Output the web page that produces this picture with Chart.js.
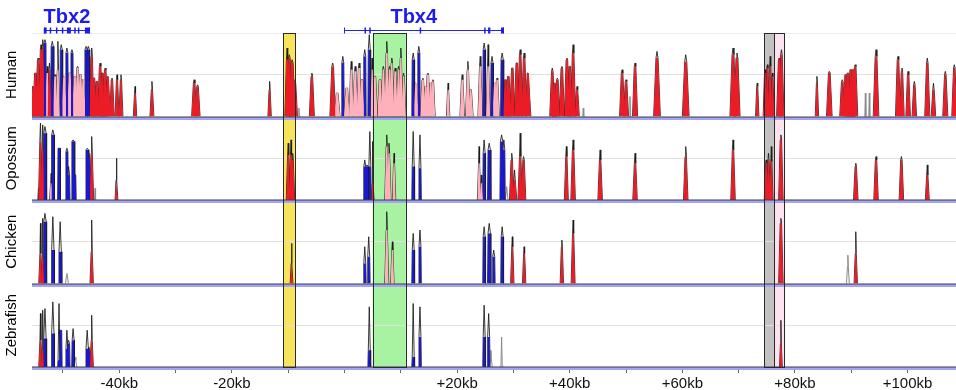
<!DOCTYPE html>
<html>
<head>
<meta charset="utf-8">
<script src="https://cdn.jsdelivr.net/npm/chart.js@4.4.1/dist/chart.umd.min.js"></script>
<style>
  html, body { margin: 0; padding: 0; background: #fff; }
  #wrap { width: 956px; height: 390px; position: relative; }
</style>
</head>
<body>
<div id="wrap"><canvas id="vista"></canvas></div>
<script>
// Window shown, in kb relative to Tbx4 start
const xMin = -55.5;
const xMax = 108.6;
const tickKb = [-50, -40, -30, -20, -10, 0, 10, 20, 30, 40, 50, 60, 70, 80, 90, 100];
const labelKb = [-40, -20, 20, 40, 60, 80, 100];

const species = ['Human', 'Opossum', 'Chicken', 'Zebrafish'];

// peaks: [kb, curve top %, coloured fill %, half width kb, kind]
const humanPeaks = [
  [-55.3, 68, 68, 0.35, 'cns'], [-54.9, 76, 76, 0.45, 'cns'], [-54.4, 85, 84, 0.45, 'cns'],
  [-53.9, 93, 90, 0.4, 'cns'], [-53.6, 96, 92, 0.35, 'cns'], [-53.2, 96, 94, 0.25, 'exon'],
  [-52.8, 80, 76, 0.4, 'utr'], [-52.4, 82, 78, 0.35, 'cns'], [-51.9, 95, 92, 0.28, 'exon'],
  [-51.4, 75, 74, 0.45, 'utr'], [-50.9, 95, 78, 0.35, 'utr'], [-50.3, 93, 90, 0.25, 'exon'],
  [-49.8, 74, 74, 0.5, 'utr'], [-49.3, 91, 88, 0.25, 'exon'], [-48.8, 76, 76, 0.5, 'utr'],
  [-48.4, 90, 88, 0.25, 'exon'], [-47.9, 74, 74, 0.5, 'utr'], [-47.4, 80, 79, 0.45, 'utr'],
  [-46.9, 75, 75, 0.5, 'utr'], [-46.4, 72, 72, 0.45, 'utr'], [-45.9, 92, 90, 0.28, 'exon'],
  [-45.5, 92, 90, 0.25, 'exon'], [-44.9, 91, 86, 0.4, 'cns'], [-44.5, 73, 73, 0.45, 'cns'],
  [-44.0, 71, 71, 0.45, 'cns'], [-43.4, 82, 80, 0.45, 'cns'], [-43.0, 76, 76, 0.45, 'cns'],
  [-42.5, 79, 78, 0.45, 'cns'], [-42.0, 74, 74, 0.45, 'cns'], [-41.3, 73, 72, 0.4, 'cns'],
  [-40.4, 75, 72, 0.35, 'cns'], [-39.7, 75, 72, 0.35, 'cns'], [-37.2, 68, 64, 0.3, 'cns'],
  [-34.2, 71, 66, 0.35, 'cns'], [-26.7, 72, 70, 0.45, 'cns'], [-26.1, 69, 68, 0.45, 'cns'],
  [-13.3, 71, 66, 0.3, 'cns'], [-10.2, 91, 84, 0.4, 'cns'], [-9.8, 87, 85, 0.5, 'cns'],
  [-9.3, 84, 82, 0.55, 'cns'], [-8.8, 72, 70, 0.45, 'cns'], [-8.1, 55, 50, 0.35, 'none'],
  [-5.8, 76, 74, 0.45, 'cns'], [-2.1, 82, 80, 0.5, 'cns'], [-1.3, 64, 64, 0.5, 'utr'],
  [-0.3, 86, 82, 0.25, 'exon'], [0.4, 67, 67, 0.5, 'utr'], [1.2, 83, 78, 0.4, 'utr'],
  [1.9, 80, 77, 0.45, 'utr'], [2.6, 82, 79, 0.45, 'utr'], [3.1, 72, 72, 0.45, 'utr'],
  [3.6, 90, 86, 0.25, 'exon'], [4.4, 99, 90, 0.25, 'exon'], [4.9, 85, 78, 0.3, 'utr'],
  [5.4, 74, 74, 0.45, 'utr'], [6.3, 72, 72, 0.45, 'utr'], [6.9, 80, 78, 0.45, 'utr'],
  [7.5, 95, 88, 0.4, 'utr'], [8.0, 80, 78, 0.45, 'utr'], [8.4, 85, 82, 0.4, 'utr'],
  [9.0, 79, 77, 0.45, 'utr'], [9.6, 80, 78, 0.4, 'utr'], [10.0, 91, 85, 0.35, 'utr'],
  [10.5, 76, 74, 0.4, 'utr'], [12.2, 88, 84, 0.25, 'exon'], [12.7, 70, 70, 0.45, 'utr'],
  [13.2, 92, 88, 0.25, 'exon'], [13.9, 73, 72, 0.45, 'utr'], [14.4, 68, 68, 0.45, 'utr'],
  [14.8, 76, 75, 0.45, 'utr'], [15.3, 70, 70, 0.45, 'utr'], [15.7, 72, 71, 0.4, 'utr'],
  [18.4, 70, 66, 0.3, 'utr'], [20.9, 75, 72, 0.4, 'utr'], [21.9, 83, 78, 0.4, 'utr'],
  [22.4, 66, 66, 0.45, 'utr'], [24.1, 86, 80, 0.4, 'utr'], [24.8, 94, 90, 0.25, 'exon'],
  [25.5, 93, 80, 0.35, 'utr'], [26.2, 86, 82, 0.25, 'exon'], [26.7, 70, 70, 0.45, 'utr'],
  [27.1, 73, 72, 0.4, 'utr'], [28.0, 88, 84, 0.28, 'exon'], [28.6, 72, 72, 0.45, 'cns'],
  [29.1, 74, 74, 0.45, 'cns'], [29.8, 79, 79, 0.45, 'cns'], [30.6, 82, 82, 0.45, 'cns'],
  [31.2, 90, 87, 0.45, 'cns'], [31.9, 88, 85, 0.45, 'cns'], [32.6, 76, 76, 0.5, 'cns'],
  [36.9, 79, 77, 0.45, 'cns'], [37.3, 70, 70, 0.45, 'cns'], [37.8, 73, 72, 0.45, 'cns'],
  [38.6, 80, 79, 0.45, 'cns'], [39.5, 85, 84, 0.45, 'cns'], [40.0, 80, 80, 0.45, 'cns'],
  [40.6, 93, 88, 0.45, 'cns'], [41.3, 68, 66, 0.4, 'cns'], [42.4, 55, 50, 0.3, 'none'],
  [49.3, 78, 76, 0.45, 'cns'], [50.0, 72, 71, 0.45, 'cns'], [50.7, 62, 50, 0.35, 'none'],
  [51.6, 82, 80, 0.45, 'cns'], [55.5, 89, 85, 0.6, 'cns'], [60.6, 87, 83, 0.6, 'cns'],
  [69.0, 91, 87, 0.55, 'cns'], [69.7, 88, 85, 0.55, 'cns'], [73.3, 70, 68, 0.3, 'cns'],
  [74.7, 78, 76, 0.35, 'cns'], [75.1, 81, 79, 0.35, 'cns'], [75.6, 86, 80, 0.35, 'cns'],
  [76.0, 76, 74, 0.3, 'cns'], [77.2, 85, 84, 0.45, 'cns'], [77.6, 90, 87, 0.45, 'cns'],
  [83.9, 74, 70, 0.3, 'cns'], [86.1, 77, 76, 0.5, 'cns'], [88.4, 72, 71, 0.45, 'cns'],
  [89.0, 75, 75, 0.45, 'cns'], [89.4, 76, 76, 0.45, 'cns'], [89.9, 78, 78, 0.45, 'cns'],
  [90.3, 78, 78, 0.45, 'cns'], [90.7, 81, 80, 0.45, 'cns'], [92.5, 64, 50, 0.3, 'none'],
  [93.2, 64, 50, 0.3, 'none'], [94.4, 90, 86, 0.5, 'cns'], [98.3, 86, 84, 0.45, 'cns'],
  [99.0, 79, 77, 0.4, 'cns'], [100.1, 77, 75, 0.4, 'cns'], [101.2, 71, 69, 0.4, 'cns'],
  [103.5, 85, 82, 0.45, 'cns'], [104.6, 70, 66, 0.4, 'cns'], [106.7, 77, 75, 0.45, 'cns'],
  [108.3, 81, 79, 0.45, 'cns']
];

const opossumPeaks = [
  [-54.3, 57, 57, 0.25, 'none'], [-54.0, 96, 85, 0.35, 'cns'], [-53.6, 95, 80, 0.3, 'cns'],
  [-53.2, 94, 90, 0.3, 'exon'], [-52.1, 66, 60, 0.3, 'utr'], [-51.8, 92, 89, 0.3, 'exon'],
  [-50.7, 81, 81, 0.25, 'exon'], [-49.3, 81, 79, 0.25, 'exon'], [-49.0, 70, 65, 0.25, 'exon'],
  [-48.2, 86, 85, 0.3, 'exon'], [-47.9, 65, 65, 0.25, 'exon'], [-45.7, 81, 80, 0.3, 'exon'],
  [-45.4, 78, 75, 0.25, 'exon'], [-44.9, 88, 78, 0.35, 'cns'], [-44.3, 57, 50, 0.3, 'none'],
  [-40.5, 75, 62, 0.25, 'cns'], [-10.0, 84, 77, 0.35, 'cns'], [-9.5, 86, 77, 0.35, 'cns'],
  [-9.2, 78, 74, 0.35, 'cns'], [3.6, 74, 70, 0.25, 'exon'], [4.0, 71, 70, 0.25, 'exon'],
  [4.5, 91, 70, 0.25, 'exon'], [5.0, 85, 60, 0.25, 'cns'], [7.5, 89, 82, 0.35, 'utr'],
  [7.9, 84, 78, 0.35, 'utr'], [8.8, 78, 72, 0.3, 'utr'], [12.2, 91, 70, 0.25, 'exon'],
  [13.4, 89, 69, 0.25, 'exon'], [23.9, 82, 72, 0.3, 'utr'], [24.3, 65, 60, 0.3, 'utr'],
  [24.8, 86, 78, 0.25, 'exon'], [25.7, 84, 80, 0.3, 'exon'], [27.9, 89, 85, 0.3, 'exon'],
  [28.3, 86, 80, 0.25, 'exon'], [28.8, 58, 55, 0.25, 'none'], [29.7, 78, 74, 0.4, 'cns'],
  [30.2, 68, 62, 0.4, 'cns'], [31.2, 90, 76, 0.4, 'cns'], [31.8, 76, 74, 0.4, 'cns'],
  [39.4, 82, 76, 0.35, 'cns'], [40.6, 86, 80, 0.4, 'cns'], [45.4, 80, 74, 0.4, 'cns'],
  [51.6, 78, 72, 0.4, 'cns'], [60.6, 82, 76, 0.4, 'cns'], [69.0, 86, 80, 0.4, 'cns'],
  [74.9, 74, 72, 0.35, 'cns'], [75.3, 78, 74, 0.35, 'cns'], [75.8, 82, 73, 0.3, 'cns'],
  [77.5, 89, 86, 0.4, 'cns'], [90.8, 72, 70, 0.4, 'cns'], [94.4, 76, 74, 0.4, 'cns'],
  [98.9, 76, 74, 0.4, 'cns'], [103.5, 71, 65, 0.35, 'cns']
];

const chickenPeaks = [
  [-54.0, 86, 68, 0.3, 'cns'], [-53.6, 89, 65, 0.25, 'cns'], [-53.2, 92, 87, 0.3, 'exon'],
  [-51.8, 90, 70, 0.3, 'exon'], [-50.5, 87, 69, 0.3, 'exon'], [-49.3, 56, 55, 0.25, 'none'],
  [-44.9, 88, 69, 0.3, 'cns'], [-9.4, 74, 62, 0.25, 'cns'], [3.6, 72, 62, 0.25, 'exon'],
  [4.3, 78, 66, 0.25, 'exon'], [7.5, 93, 82, 0.35, 'utr'], [8.5, 75, 70, 0.3, 'utr'],
  [12.2, 80, 70, 0.25, 'exon'], [13.4, 82, 72, 0.25, 'exon'], [24.8, 84, 78, 0.25, 'exon'],
  [25.7, 86, 80, 0.3, 'exon'], [26.5, 70, 66, 0.25, 'exon'], [28.0, 84, 78, 0.25, 'exon'],
  [29.8, 78, 72, 0.3, 'cns'], [31.9, 72, 68, 0.3, 'cns'], [38.6, 76, 72, 0.3, 'cns'],
  [40.6, 88, 80, 0.35, 'cns'], [77.5, 89, 86, 0.4, 'cns'], [89.4, 67, 60, 0.25, 'none'],
  [90.8, 81, 68, 0.3, 'cns']
];

const zebrafishPeaks = [
  [-54.0, 82, 66, 0.3, 'cns'], [-53.6, 84, 60, 0.25, 'cns'], [-53.2, 85, 67, 0.3, 'exon'],
  [-51.8, 89, 70, 0.3, 'exon'], [-50.7, 88, 54, 0.25, 'exon'], [-50.4, 72, 72, 0.25, 'exon'],
  [-49.3, 72, 61, 0.25, 'exon'], [-49.0, 66, 64, 0.25, 'exon'], [-48.2, 73, 66, 0.25, 'exon'],
  [-47.8, 56, 54, 0.25, 'none'], [-45.7, 72, 61, 0.3, 'exon'], [-45.4, 62, 60, 0.25, 'exon'],
  [-44.9, 81, 66, 0.3, 'cns'], [4.4, 86, 60, 0.25, 'exon'], [12.2, 88, 56, 0.25, 'exon'],
  [13.4, 86, 68, 0.25, 'exon'], [24.8, 87, 68, 0.25, 'exon'], [25.6, 82, 68, 0.25, 'exon'],
  [26.0, 60, 55, 0.25, 'none'], [27.9, 68, 50, 0.4, 'none'], [77.5, 78, 64, 0.25, 'cns']
];

// genes on top
const geneNames = ['Tbx2', 'Tbx4'];
const geneLabelKb = [-49.3, 12.3];
const geneSpans = [[-53.4, -45.2], [-0.1, 28.3]];
const geneExons = [
  [[-53.4, -52.9], [-52.35, -52.2], [-51.25, -51.1], [-50.2, -50.05], [-49.3, -48.6], [-48.0, -47.85], [-47.35, -47.2], [-46.1, -45.2]],
  [[3.55, 3.7], [4.4, 4.55], [13.35, 13.5], [24.8, 25.0], [25.5, 25.9], [27.8, 28.3]]
];

// highlighted regions
const boxStart = [-10.9, 5.0, 74.5, 76.3];
const boxEnd = [-8.8, 10.9, 76.3, 78.1];
const boxFill = ['#f8e45c', '#a8f3a2', '#c2c2c2', '#fde3ef'];

const FONT = '"Liberation Sans", Arial, Helvetica, sans-serif';
const kindColor = { utr: '#ffb1bb', cns: '#ec1c26', exon: '#1a1acc' };
// how flat the shoulder of each kind is (exons are blocky)
const kindShoulder = { utr: 0.3, cns: 0.3, exon: 0.7, none: 0.3 };
const panels = [humanPeaks, opossumPeaks, chickenPeaks, zebrafishPeaks];

const datasets = [];
panels.forEach((peaks, i) => {
  const axisId = 'y' + i;
  [['utr', 4], ['cns', 3], ['exon', 2]].forEach(([kind, order]) => {
    const pts = [];
    const k = kindShoulder[kind];
    peaks.filter(p => p[4] === kind).forEach(([x, top, fill, w]) => {
      pts.push({x: x - w, y: 50}, {x: x - w * k, y: fill}, {x: x + w * k, y: fill}, {x: x + w, y: 50}, {x: x + w, y: null});
    });
    datasets.push({
      data: pts, yAxisID: axisId, order: order,
      backgroundColor: kindColor[kind], borderColor: 'rgba(0,0,0,0)', borderWidth: 0,
      fill: {value: 50}, pointRadius: 0, tension: 0, spanGaps: false
    });
  });
  // the conservation curve itself, drawn under the coloured areas so only tips and rims show
  [['dark', 'rgba(25,25,25,0.85)'], ['none', '#8a8a8a']].forEach(([which, color]) => {
    const pts = [];
    peaks.filter(p => which === 'none' ? p[4] === 'none' : p[4] !== 'none').forEach(([x, top, fill, w, kind]) => {
      const k = kindShoulder[kind];
      pts.push({x: x - w, y: 50}, {x: x - w * k, y: fill}, {x: x, y: top}, {x: x + w * k, y: fill}, {x: x + w, y: 50}, {x: x + w, y: null});
    });
    datasets.push({
      data: pts, yAxisID: axisId, order: 6,
      borderColor: color, borderWidth: 1, fill: false, pointRadius: 0, tension: 0, spanGaps: false
    });
  });
});

const scales = {
  x: {
    type: 'linear', min: xMin, max: xMax,
    afterBuildTicks: s => { s.ticks = tickKb.map(v => ({value: v})); },
    ticks: {
      autoSkip: false, maxRotation: 0, padding: 2, color: '#111',
      font: {family: FONT, size: 15},
      callback: v => labelKb.includes(v) ? (v > 0 ? '+' : '') + v + 'kb' : ''
    },
    grid: { drawOnChartArea: false, drawTicks: true, tickLength: 6, color: '#666' },
    border: { display: false },
    afterFit: s => { s.height = 23; }
  }
};
species.forEach((name, i) => {
  scales['y' + i] = {
    type: 'linear', position: 'left', min: 50, max: 100,
    stack: 'species', stackWeight: 1, weight: 4 - i, offset: false,
    afterBuildTicks: s => { s.ticks = [{value: 75}, {value: 100}]; },
    ticks: { display: false },
    grid: {
      drawTicks: false, lineWidth: 1,
      color: ctx => ctx.tick && ctx.tick.value === 75 ? '#e0e0e0' : (i === 0 ? '#ededed' : 'rgba(0,0,0,0)')
    },
    border: { display: false },
    title: { display: true, text: name, color: '#000', font: {family: FONT, size: 15}, padding: {top: 3, bottom: 0} },
    afterFit: s => { s.width = 32; }
  };
});

const regionPlugin = {
  id: 'regions',
  beforeDraw(chart) {
    const {ctx, chartArea: a, scales: {x}} = chart;
    ctx.save();
    boxStart.forEach((b, i) => {
      const x0 = x.getPixelForValue(b), x1 = x.getPixelForValue(boxEnd[i]);
      ctx.fillStyle = boxFill[i];
      ctx.fillRect(x0, a.top, x1 - x0, a.bottom - a.top);
    });
    ctx.restore();
  },
  afterDatasetsDraw(chart) {
    const {ctx, chartArea: a, scales} = chart;
    ctx.save();
    // baselines of each track
    species.forEach((n, i) => {
      const y = Math.round(scales['y' + i].getPixelForValue(50));
      ctx.fillStyle = '#a4a4f2';
      ctx.fillRect(a.left, y, a.right - a.left, 3);
      ctx.fillStyle = '#3a3a4a';
      ctx.fillRect(a.left, y - 0.5, a.right - a.left, 1);
    });
    ctx.strokeStyle = '#2a2a2a';
    ctx.lineWidth = 1;
    boxStart.forEach((b, i) => {
      const x0 = Math.round(scales.x.getPixelForValue(b)) + 0.5;
      const x1 = Math.round(scales.x.getPixelForValue(boxEnd[i])) + 0.5;
      ctx.strokeRect(x0, a.top + 0.5, x1 - x0, a.bottom - a.top);
    });
    ctx.restore();
  },
  afterDraw(chart) {
    const {ctx, scales: {x}} = chart;
    ctx.save();
    geneNames.forEach((name, g) => {
      const x0 = x.getPixelForValue(geneSpans[g][0]);
      const x1 = x.getPixelForValue(geneSpans[g][1]);
      ctx.strokeStyle = '#2424f0';
      ctx.lineWidth = 1;
      ctx.beginPath();
      ctx.moveTo(x0, 30.5); ctx.lineTo(x1, 30.5);
      ctx.moveTo(Math.round(x0) + 0.5, 27.5); ctx.lineTo(Math.round(x0) + 0.5, 33.5);
      ctx.moveTo(Math.round(x1) - 0.5, 27.5); ctx.lineTo(Math.round(x1) - 0.5, 33.5);
      ctx.stroke();
      ctx.fillStyle = '#1c1cee';
      geneExons[g].forEach(([s, e]) => {
        const ps = x.getPixelForValue(s), pe = x.getPixelForValue(e);
        ctx.fillRect(ps, 27.5, Math.max(1.5, pe - ps), 6);
      });
      ctx.font = 'bold 20px ' + FONT;
      ctx.textAlign = 'center';
      ctx.textBaseline = 'alphabetic';
      ctx.fillText(name, x.getPixelForValue(geneLabelKb[g]), 23);
    });
    ctx.restore();
  }
};

new Chart(document.getElementById('vista'), {
  type: 'line',
  data: { datasets: datasets },
  options: {
    responsive: true, maintainAspectRatio: false, animation: false,
    layout: { padding: {top: 33, right: 0, bottom: 0, left: 0} },
    plugins: { legend: { display: false }, tooltip: { enabled: false } },
    scales: scales
  },
  plugins: [regionPlugin]
});
</script>
</body>
</html>
